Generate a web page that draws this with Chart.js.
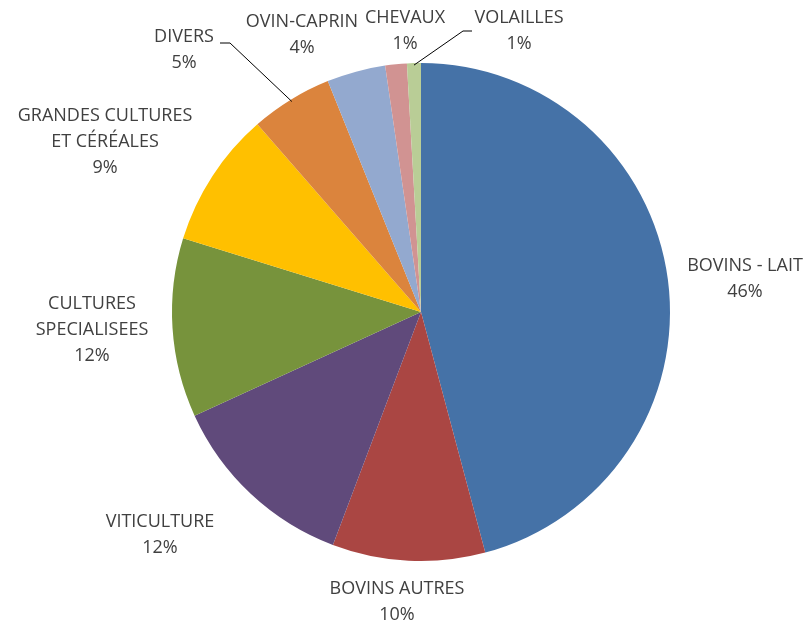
<!DOCTYPE html>
<html>
<head>
<meta charset="utf-8">
<script src="https://cdn.jsdelivr.net/npm/chart.js@4"></script>
<style>
  html, body { margin: 0; padding: 0; background: #fff; }
  #wrap { width: 809px; height: 622px; }
</style>
</head>
<body>
<div id="wrap"><canvas id="pieChart" width="809" height="622"></canvas></div>
<script>
// catégories et parts (en %)
const categories = ['BOVINS - LAIT', 'BOVINS AUTRES', 'VITICULTURE', 'CULTURES\nSPECIALISEES',
  'GRANDES CULTURES\nET CÉRÉALES', 'DIVERS', 'OVIN-CAPRIN', 'CHEVAUX', 'VOLAILLES'];
const parts = [45.8, 9.9, 12.4, 11.6, 8.8, 5.3, 3.8, 1.4, 0.9];
const couleurs = ['#4572A7', '#AA4643', '#604A7B', '#77933C', '#FFC000', '#DB843D', '#93A9CF', '#D19392', '#B9CD96'];

// position (centre du texte) de chaque étiquette
const posEtiquettes = [
  [745, 266], [397, 589], [160, 522], [92, 304], [105, 116],
  [184, 37], [302, 22], [405, 18], [519, 18]
];
// lignes de rappel : index -> point de coude
const rappels = {
  5: [[220, 43], [230, 43]],
  8: [[472, 31], [463, 31]]
};

const ctx = document.getElementById('pieChart').getContext('2d');

const etiquettesPlugin = {
  id: 'etiquettes',
  afterDatasetsDraw(chart) {
    const c = chart.ctx;
    const meta = chart.getDatasetMeta(0);
    const total = parts.reduce((a, b) => a + b, 0);
    c.save();
    c.font = '18px "Open Sans"';
    c.fillStyle = '#404040';
    c.textAlign = 'center';
    c.textBaseline = 'middle';
    const lh = 26;
    meta.data.forEach((arc, i) => {
      const lignes = categories[i].split('\n');
      lignes.push(Math.round(parts[i] / total * 100) + '%');
      const [x, y] = posEtiquettes[i];
      lignes.forEach((t, k) => c.fillText(t, x, y + k * lh));

      if (rappels[i]) {
        const p = arc.getProps(['x', 'y', 'startAngle', 'endAngle', 'outerRadius'], true);
        const a = (p.startAngle + p.endAngle) / 2;
        const r = p.outerRadius - 2;
        c.strokeStyle = '#000';
        c.lineWidth = 1;
        c.beginPath();
        c.moveTo(rappels[i][0][0], rappels[i][0][1]);
        c.lineTo(rappels[i][1][0], rappels[i][1][1]);
        c.lineTo(p.x + Math.cos(a) * r, p.y + Math.sin(a) * r);
        c.stroke();
      }
    });
    c.restore();
  }
};

new Chart(ctx, {
  type: 'pie',
  data: {
    labels: categories,
    datasets: [{
      data: parts,
      backgroundColor: couleurs,
      borderWidth: 0
    }]
  },
  options: {
    responsive: false,
    animation: false,
    layout: { padding: { left: 172, right: 139, top: 63, bottom: 61 } },
    plugins: {
      legend: { display: false },
      tooltip: { enabled: false }
    }
  },
  plugins: [etiquettesPlugin]
});
</script>
</body>
</html>
